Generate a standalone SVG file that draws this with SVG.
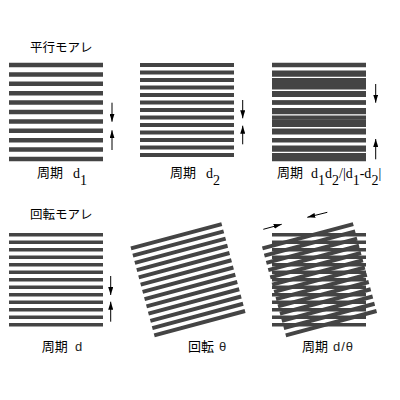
<svg xmlns="http://www.w3.org/2000/svg" width="400" height="400" viewBox="0 0 400 400">
<style>
.grid{stroke:#444;fill:none}
.arr{stroke:#000;stroke-width:1;fill:none}
.jp{font-family:"Noto Sans CJK JP","Noto Sans",sans-serif;font-size:13px;fill:#000}
.ttl{font-size:12.5px}
.ser{font-family:"Liberation Serif",serif;font-size:14px;fill:#000}
.san{font-family:"Liberation Sans",sans-serif;font-size:13px;fill:#222}
</style>
<defs>
<path id="d1" d="M-47 -47h94M-47 -37.6h94M-47 -28.2h94M-47 -18.8h94M-47 -9.4h94M-47 0h94M-47 9.4h94M-47 18.8h94M-47 28.2h94M-47 37.6h94M-47 47h94"/>
<path id="d2" d="M-47 -45h94M-47 -37.5h94M-47 -30h94M-47 -22.5h94M-47 -15h94M-47 -7.5h94M-47 0h94M-47 7.5h94M-47 15h94M-47 22.5h94M-47 30h94M-47 37.5h94M-47 45h94"/>
<marker id="ah" viewBox="0 0 8 5" refX="8" refY="2.5" markerWidth="8" markerHeight="5" markerUnits="userSpaceOnUse" orient="auto">
<path d="M0 0L8 2.5L0 5z" fill="#000"/>
</marker>
</defs>
<text class="jp ttl" x="30" y="52">平行モアレ</text>
<text class="jp ttl" x="30" y="219">回転モアレ</text>
<g id="panel1">
<use href="#d1" class="grid" stroke-width="4.5" transform="translate(56,112)"/>
<text class="jp" x="37" y="177">周期</text>
<text class="ser" x="73" y="178">d<tspan dy="7">1</tspan></text>
</g>
<g id="panel2">
<use href="#d2" class="grid" stroke-width="4" transform="translate(187,110)"/>
<text class="jp" x="170" y="177">周期</text>
<text class="ser" x="206" y="178">d<tspan dy="7">2</tspan></text>
</g>
<g id="panel3">
<use href="#d1" class="grid" stroke-width="4.5" transform="translate(319,112)"/>
<use href="#d2" class="grid" stroke-width="4" transform="translate(319,110)"/>
<text class="jp" x="277" y="177">周期</text>
<text class="ser" x="311" y="178">d<tspan dy="7">1</tspan><tspan dy="-7">d</tspan><tspan dy="7">2</tspan><tspan dy="-7">/|d</tspan><tspan dy="7">1</tspan><tspan dy="-7">-d</tspan><tspan dy="7">2</tspan><tspan dy="-7">|</tspan></text>
</g>
<g id="panel4">
<use href="#d2" class="grid" stroke-width="3.5" transform="translate(56,279.7)"/>
<text class="jp" x="41.7" y="351">周期</text>
<text class="san" x="75" y="351">d</text>
</g>
<g id="panel5">
<use href="#d2" class="grid" stroke-width="4" transform="translate(188,279.7) rotate(-15)"/>
<text class="jp" x="188" y="351">回転</text>
<text class="san" x="219" y="351" font-size="11">θ</text>
</g>
<g id="panel6">
<use href="#d2" class="grid" stroke-width="3.5" transform="translate(319,279.7)"/>
<use href="#d2" class="grid" stroke-width="4" transform="translate(319.5,279.7) rotate(-15)"/>
<text class="jp" x="302" y="351">周期</text>
<text class="san" x="333" y="351" letter-spacing="1">d/θ</text>
</g>
<g id="connectors">
<path class="arr" marker-end="url(#ah)" d="M112 102.7V121.7"/>
<path class="arr" marker-end="url(#ah)" d="M112 150V130.3"/>
<path class="arr" marker-end="url(#ah)" d="M242.7 100V118.3"/>
<path class="arr" marker-end="url(#ah)" d="M242.7 144.3V125.7"/>
<path class="arr" marker-end="url(#ah)" d="M375.7 84V102.7"/>
<path class="arr" marker-end="url(#ah)" d="M375.7 159.3V139"/>
<path class="arr" marker-end="url(#ah)" d="M110.7 276V295"/>
<path class="arr" marker-end="url(#ah)" d="M110.7 321.7V301.7"/>
<path class="arr" marker-end="url(#ah)" d="M263.3 229.3L281.7 224.3"/>
<path class="arr" marker-end="url(#ah)" d="M327.3 212.3L307.3 217.3"/>
</g>
</svg>
